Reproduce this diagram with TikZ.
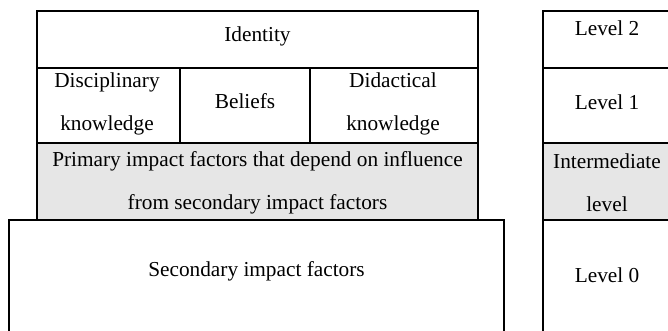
\documentclass[tikz,border=0pt]{standalone}
\usepackage{fontspec}
\setmainfont{Liberation Serif}
\definecolor{shade}{RGB}{230,230,230}
\begin{document}
\begin{tikzpicture}[x=1pt,y=-1pt,
  frame/.style={draw, line width=1.7pt},
  txt/.style={inner sep=0pt, align=center, font=\fontsize{21.3}{43}\selectfont}]
\useasboundingbox (0,0) rectangle (668,330);
\clip (0,0) rectangle (668,330);

% factor stack
\draw[frame] (37,11) rectangle (478,68);
\draw[frame] (37,68) rectangle (180,143);
\draw[frame] (180,68) rectangle (310,143);
\draw[frame] (310,68) rectangle (478,143);
\draw[frame, fill=shade] (37,143) rectangle (478,220);
\draw[frame] (9,220) rectangle (504,345);

\node[txt] (identity) at (257.5,36) {Identity};
\node[txt] (disc) at (107,103.5) {Disciplinary\\knowledge};
\node[txt] (beliefs) at (245,101) {Beliefs};
\node[txt] (didac) at (393,103.5) {Didactical\\knowledge};
\node[txt] (primary) at (257.5,182.5) {Primary impact factors that depend on influence\\from secondary impact factors};
\node[txt] (secondary) at (256.5,271) {Secondary impact factors};

% levels
\draw[frame] (543,11) rectangle (680,68);
\draw[frame] (543,68) rectangle (680,143);
\draw[frame, fill=shade] (543,143) rectangle (680,220);
\draw[frame] (543,220) rectangle (680,345);

\node[txt] (lvl2) at (607,28.5) {Level 2};
\node[txt] (lvl1) at (607,102) {Level 1};
\node[txt] (lvlmid) at (607,182.5) {Intermediate\\level};
\node[txt] (lvl0) at (607,275.5) {Level 0};
\end{tikzpicture}
\end{document}
